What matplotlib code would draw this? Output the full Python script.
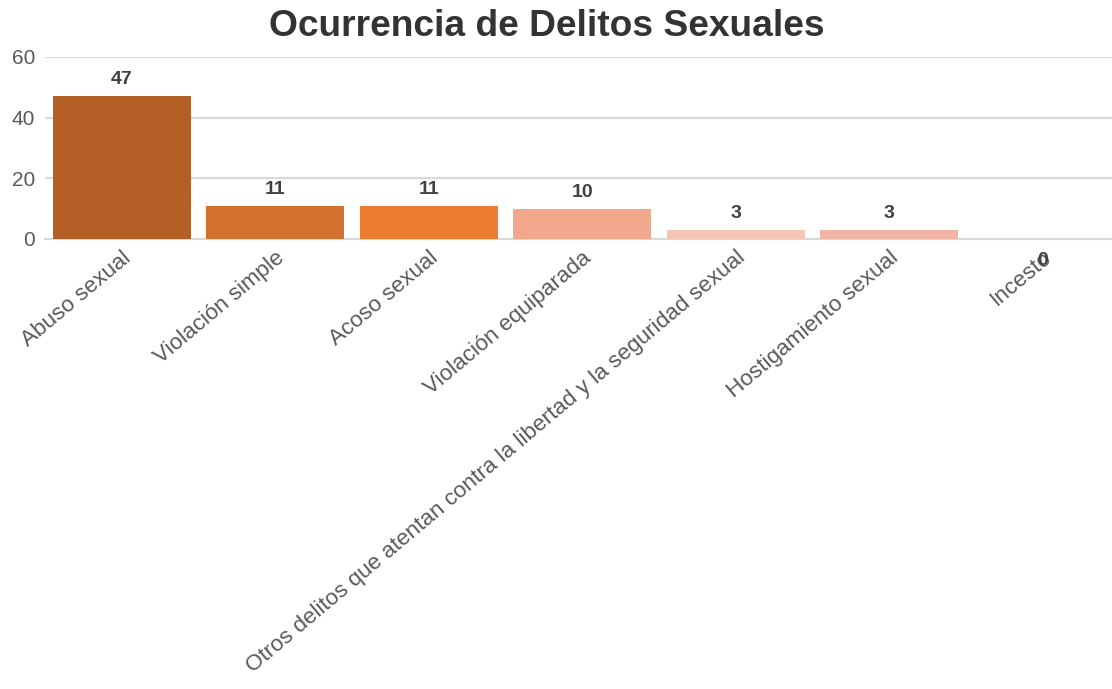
import matplotlib
matplotlib.use("Agg")
import matplotlib.pyplot as plt

categories = ["Abuso sexual", "Violación simple", "Acoso sexual", "Violación equiparada",
              "Otros delitos que atentan contra la libertad y la seguridad sexual",
              "Hostigamiento sexual", "Incesto"]
values = [47, 11, 11, 10, 3, 3, 0]
colors = ["#B35F25", "#D2702F", "#ED7D31", "#F2A88C", "#F5C6B8", "#F3B5A3", "#F3B5A3"]
yticks = [0, 20, 40, 60]
title = "Ocurrencia de Delitos Sexuales"

plt.rcParams['font.family'] = ['Liberation Sans', 'DejaVu Sans']

fig = plt.figure(figsize=(11.12, 6.89), dpi=100)
ax = fig.add_axes([45/1112, 1-239/689, 1-45/1112, (239-57)/689])

x = list(range(len(categories)))
ax.bar(x, values, width=0.9, color=colors, zorder=3)
ax.set_xlim(-0.5, 6.45)
ax.set_ylim(0, 60)
ax.set_yticks(yticks)
ax.yaxis.grid(True, color="#d9d9d9", linewidth=1.5, zorder=0)
for s in ["top", "right", "left"]:
    ax.spines[s].set_visible(False)
ax.spines["bottom"].set_color("#d9d9d9")
ax.spines["bottom"].set_linewidth(1.5)
ax.tick_params(axis="y", length=0, labelsize=15, labelcolor="#595959", pad=7)
ax.tick_params(axis="x", length=0, labelsize=16.2, labelcolor="#595959", pad=6)
ax.set_xticks(x)
ax.set_xticklabels(categories, rotation=40, ha="right", va="top", rotation_mode="anchor")

for xi, v in zip(x, values):
    off = 12 if v > 0 else -26
    ax.annotate(str(v), (xi, v), xytext=(0, off), textcoords="offset pixels",
                ha="center", va="baseline", fontsize=14, fontweight="bold", color="#404040")

fig.text(547/1112, 1-26/689, title, ha="center", va="center", fontsize=26.7,
         fontweight="bold", color="#333333")

fig.savefig("out.png", dpi=100)
